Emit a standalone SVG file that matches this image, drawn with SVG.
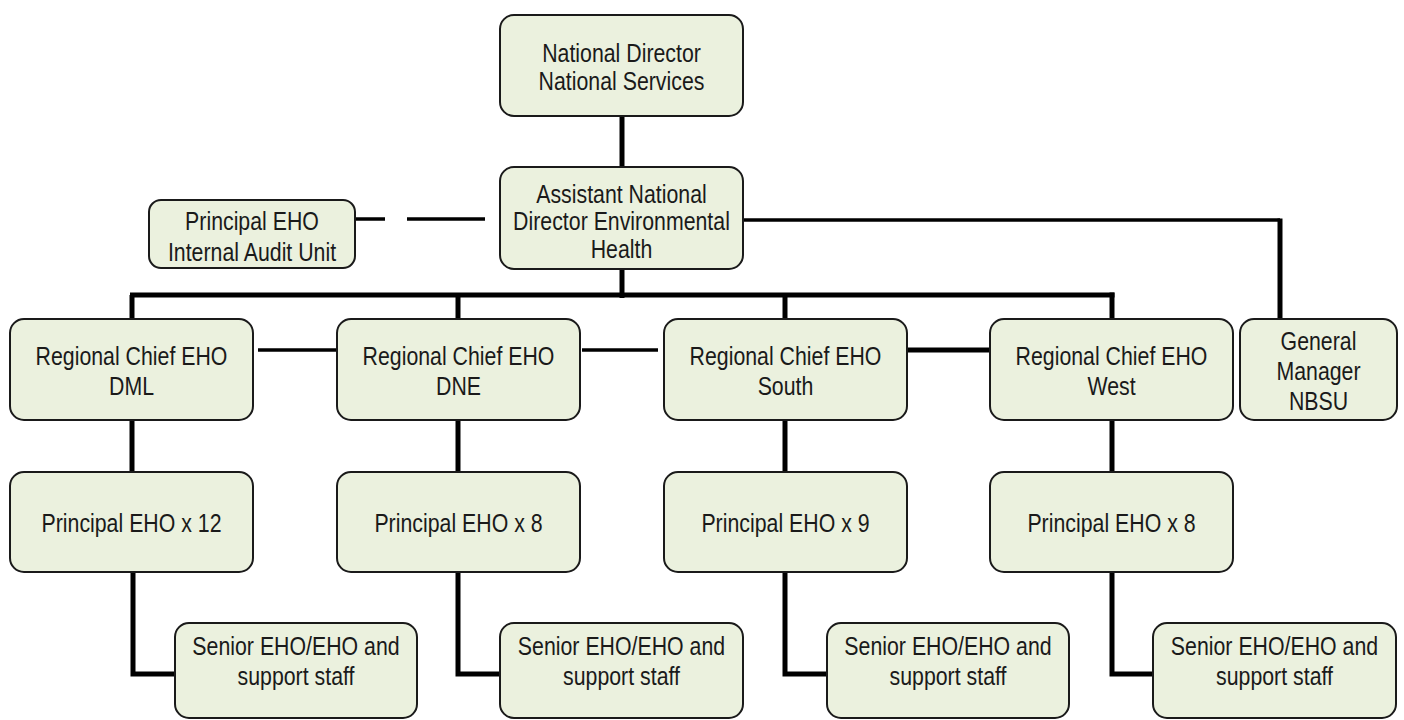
<svg xmlns="http://www.w3.org/2000/svg" width="1404" height="720" viewBox="0 0 1404 720">
<style>
.box{fill:#EBF1DE;stroke:#1a1a1a;stroke-width:2}
.t{font-family:"Liberation Sans",Arial,sans-serif;font-size:26px;fill:#1a1a1a;text-anchor:middle}
.c{stroke:#000;fill:none;stroke-linecap:butt;stroke-linejoin:miter}
.thick{stroke-width:5}
.thin{stroke-width:3.5}
</style>
<rect width="1404" height="720" fill="#fff"/>
<g id="connectors">
<line class="c thick" x1="622" y1="116" x2="622" y2="167"/>
<line class="c thick" x1="622" y1="269" x2="622" y2="298"/>
<line class="c thick" x1="130" y1="295" x2="1114.5" y2="295"/>
<line class="c thick" x1="132" y1="295" x2="132" y2="319"/>
<line class="c thick" x1="458" y1="295" x2="458" y2="319"/>
<line class="c thick" x1="785" y1="295" x2="785" y2="319"/>
<line class="c thick" x1="1112" y1="292.5" x2="1112" y2="319"/>
<polyline class="c thin" points="743,220 1280,220"/>
<line class="c thick" x1="1280" y1="218.5" x2="1280" y2="318"/>
<line class="c thin" x1="355" y1="219" x2="385" y2="219"/>
<line class="c thin" x1="407" y1="219" x2="485" y2="219"/>
<line class="c thin" x1="258" y1="350" x2="337" y2="350"/>
<line class="c thin" x1="582" y1="350" x2="658" y2="350"/>
<line class="c thick" x1="905" y1="350" x2="990" y2="350"/>
<line class="c thick" x1="132" y1="420" x2="132" y2="472"/>
<line class="c thick" x1="458" y1="420" x2="458" y2="472"/>
<line class="c thick" x1="785" y1="420" x2="785" y2="472"/>
<line class="c thick" x1="1112" y1="420" x2="1112" y2="472"/>
<polyline class="c thick" points="133,572 133,674 175,674"/>
<polyline class="c thick" points="458,572 458,674 500,674"/>
<polyline class="c thick" points="785,572 785,674 827,674"/>
<polyline class="c thick" points="1112,572 1112,674 1153,674"/>
</g>
<g id="national-director">
<rect class="box" x="500" y="15" width="243" height="101" rx="14"/>
<text class="t" transform="translate(621.5,62) scale(0.82,1)">National Director</text>
<text class="t" transform="translate(621.5,90) scale(0.82,1)">National Services</text>
</g>
<g id="assistant-national-director">
<rect class="box" x="500" y="167" width="243" height="102" rx="14"/>
<text class="t" transform="translate(621.5,203) scale(0.82,1)">Assistant National</text>
<text class="t" transform="translate(621.5,230) scale(0.82,1)">Director Environmental</text>
<text class="t" transform="translate(621.5,258) scale(0.82,1)">Health</text>
</g>
<g id="internal-audit">
<rect class="box" x="149" y="200" width="206" height="68" rx="12"/>
<text class="t" transform="translate(252,230) scale(0.82,1)">Principal EHO</text>
<text class="t" transform="translate(252,261) scale(0.82,1)">Internal Audit Unit</text>
</g>
<g id="regional-dml">
<rect class="box" x="10" y="319" width="243" height="101" rx="14"/>
<text class="t" transform="translate(131.5,365) scale(0.82,1)">Regional Chief EHO</text>
<text class="t" transform="translate(131.5,395) scale(0.82,1)">DML</text>
</g>
<g id="regional-dne">
<rect class="box" x="337" y="319" width="243" height="101" rx="14"/>
<text class="t" transform="translate(458.5,365) scale(0.82,1)">Regional Chief EHO</text>
<text class="t" transform="translate(458.5,395) scale(0.82,1)">DNE</text>
</g>
<g id="regional-south">
<rect class="box" x="664" y="319" width="243" height="101" rx="14"/>
<text class="t" transform="translate(785.5,365) scale(0.82,1)">Regional Chief EHO</text>
<text class="t" transform="translate(785.5,395) scale(0.82,1)">South</text>
</g>
<g id="regional-west">
<rect class="box" x="990" y="319" width="243" height="101" rx="14"/>
<text class="t" transform="translate(1111.5,365) scale(0.82,1)">Regional Chief EHO</text>
<text class="t" transform="translate(1111.5,395) scale(0.82,1)">West</text>
</g>
<g id="general-manager">
<rect class="box" x="1240" y="319" width="157" height="101" rx="14"/>
<text class="t" transform="translate(1318.5,350) scale(0.82,1)">General</text>
<text class="t" transform="translate(1318.5,380) scale(0.82,1)">Manager</text>
<text class="t" transform="translate(1318.5,410) scale(0.82,1)">NBSU</text>
</g>
<g id="principal-dml">
<rect class="box" x="10" y="472" width="243" height="100" rx="14"/>
<text class="t" transform="translate(131.5,532) scale(0.82,1)">Principal EHO x 12</text>
</g>
<g id="principal-dne">
<rect class="box" x="337" y="472" width="243" height="100" rx="14"/>
<text class="t" transform="translate(458.5,532) scale(0.82,1)">Principal EHO x 8</text>
</g>
<g id="principal-south">
<rect class="box" x="664" y="472" width="243" height="100" rx="14"/>
<text class="t" transform="translate(785.5,532) scale(0.82,1)">Principal EHO x 9</text>
</g>
<g id="principal-west">
<rect class="box" x="990" y="472" width="243" height="100" rx="14"/>
<text class="t" transform="translate(1111.5,532) scale(0.82,1)">Principal EHO x 8</text>
</g>
<g id="senior-dml">
<rect class="box" x="175" y="623" width="242" height="95" rx="14"/>
<text class="t" transform="translate(296,655) scale(0.82,1)">Senior EHO/EHO and</text>
<text class="t" transform="translate(296,685) scale(0.82,1)">support staff</text>
</g>
<g id="senior-dne">
<rect class="box" x="500" y="623" width="243" height="95" rx="14"/>
<text class="t" transform="translate(621.5,655) scale(0.82,1)">Senior EHO/EHO and</text>
<text class="t" transform="translate(621.5,685) scale(0.82,1)">support staff</text>
</g>
<g id="senior-south">
<rect class="box" x="827" y="623" width="242" height="95" rx="14"/>
<text class="t" transform="translate(948,655) scale(0.82,1)">Senior EHO/EHO and</text>
<text class="t" transform="translate(948,685) scale(0.82,1)">support staff</text>
</g>
<g id="senior-west">
<rect class="box" x="1153" y="623" width="243" height="95" rx="14"/>
<text class="t" transform="translate(1274.5,655) scale(0.82,1)">Senior EHO/EHO and</text>
<text class="t" transform="translate(1274.5,685) scale(0.82,1)">support staff</text>
</g>
</svg>
